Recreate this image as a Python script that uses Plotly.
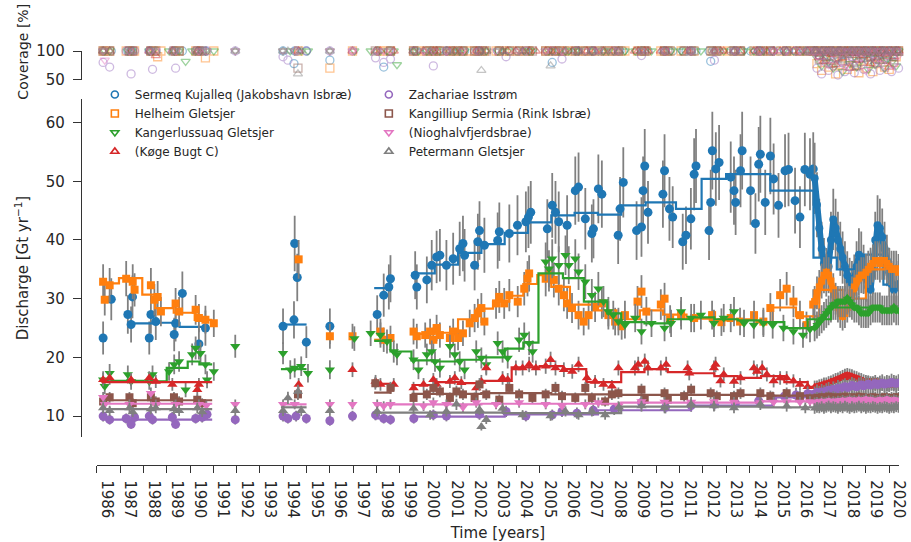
import plotly.graph_objects as go

# ---------------- data ----------------
# each tuple: (time [decimal year], discharge [Gt/yr], coverage [%])
SK_DATA = [
    (1986.27, 23.3, 100), (1986.62, 29.9, 100), (1987.33, 27.3, 100), (1987.47, 25.6, 100), (1987.53, 30.3, 100),
    (1988.25, 23.3, 100), (1988.32, 27.3, 100), (1988.53, 26.1, 100), (1989.32, 23.9, 100), (1989.38, 25.8, 100),
    (1989.67, 30.9, 100), (1990.38, 22.3, 100), (1990.66, 25.0, 100),
    (1993.99, 25.3, 100), (1994.46, 26.4, 78), (1994.49, 39.4, 100), (1994.60, 33.6, 100), (1994.99, 22.6, 100),
    (1996.00, 25.3, 84),
    (1998.03, 27.3, 100), (1998.31, 30.6, 72), (1998.53, 32.0, 100), (1998.60, 33.4, 100),
    (1999.66, 34.0, 100), (1999.73, 32.0, 100), (2000.16, 33.2, 100), (2000.37, 35.7, 100), (2000.58, 37.1, 100),
    (2000.72, 37.4, 100), (2001.00, 35.7, 100), (2001.29, 36.8, 100), (2001.57, 38.5, 100), (2001.71, 39.4, 100),
    (2001.78, 37.4, 100), (2002.21, 35.7, 100), (2002.35, 39.7, 100), (2002.42, 41.6, 100), (2002.63, 39.1, 100),
    (2003.20, 39.9, 100), (2003.27, 41.4, 100), (2003.70, 41.1, 100), (2004.05, 42.5, 100), (2004.41, 43.1, 100),
    (2004.52, 43.9, 100), (2004.62, 44.7, 100), (2005.33, 41.9, 100), (2005.54, 45.9, 80), (2005.68, 44.7, 100),
    (2005.82, 43.1, 100), (2006.18, 42.5, 100), (2006.53, 48.4, 100), (2006.67, 49.0, 100), (2006.96, 43.6, 100),
    (2007.24, 41.1, 100), (2007.31, 41.9, 100), (2007.52, 48.7, 100), (2007.67, 47.8, 100), (2008.37, 40.8, 100),
    (2008.45, 45.3, 100), (2008.59, 49.8, 100), (2009.16, 41.6, 100), (2009.37, 42.2, 100), (2009.44, 48.4, 100),
    (2009.51, 52.6, 100), (2009.65, 44.7, 100), (2010.29, 47.8, 100), (2010.36, 51.8, 100), (2010.57, 45.3, 100),
    (2010.71, 43.9, 100), (2011.14, 39.7, 100), (2011.28, 40.8, 100), (2011.49, 43.6, 100), (2011.63, 51.2, 100),
    (2011.71, 52.6, 100), (2012.27, 41.6, 100), (2012.34, 46.4, 82), (2012.41, 55.2, 100), (2012.56, 52.1, 100),
    (2012.70, 53.2, 100), (2013.20, 50.7, 100), (2013.34, 48.4, 100), (2013.41, 46.4, 100), (2013.62, 51.8, 100),
    (2013.69, 55.2, 100), (2014.05, 48.4, 100), (2014.26, 42.8, 100), (2014.40, 52.9, 100), (2014.47, 54.6, 100),
    (2014.68, 46.4, 100), (2014.90, 54.3, 100), (2015.04, 50.4, 100), (2015.25, 45.9, 100), (2015.53, 51.8, 100),
    (2015.68, 52.0, 100), (2015.96, 46.7, 100), (2016.17, 43.9, 100), (2016.38, 52.0, 100), (2016.60, 51.2, 100),
    (2016.74, 52.1, 100),
]
HG_DATA = [
    (1986.27, 32.9, 100), (1986.34, 29.8, 100), (1986.55, 32.3, 100), (1987.26, 33.4, 100), (1987.54, 32.9, 100),
    (1987.62, 31.5, 100), (1988.32, 32.3, 100), (1988.47, 29.8, 100), (1988.61, 30.3, 90), (1988.75, 27.8, 100),
    (1989.38, 29.2, 100), (1989.53, 27.8, 100), (1990.24, 28.1, 100), (1990.38, 26.7, 100), (1990.66, 26.4, 88),
    (1991.02, 25.8, 100),
    (1994.66, 36.7, 100), (1996.00, 23.6, 70), (1996.97, 23.6, 100), (1998.17, 24.4, 100), (1998.31, 23.0, 100),
    (1998.60, 23.3, 100),
    (1999.59, 24.4, 100), (1999.73, 23.6, 100), (2000.09, 23.8, 100), (2000.30, 24.4, 100), (2000.44, 23.0, 100),
    (2000.58, 25.0, 100), (2000.72, 23.8, 100), (2001.15, 23.3, 100), (2001.29, 24.4, 100), (2001.50, 23.3, 100),
    (2001.71, 24.1, 100), (2002.00, 25.8, 100), (2002.21, 26.7, 100), (2002.35, 27.5, 100), (2002.50, 28.4, 100),
    (2002.63, 26.1, 100), (2003.13, 29.2, 100), (2003.27, 30.3, 100), (2003.48, 29.2, 100), (2003.70, 30.6, 100),
    (2004.06, 29.5, 100), (2004.34, 31.7, 100), (2004.48, 33.4, 100), (2004.55, 34.3, 100), (2005.26, 33.4, 100),
    (2005.40, 34.3, 100), (2005.61, 33.2, 100), (2005.82, 31.7, 100), (2006.04, 30.6, 100), (2006.18, 29.2, 100),
    (2006.39, 28.4, 100), (2006.67, 27.2, 100), (2006.89, 26.1, 100), (2007.10, 27.2, 100), (2007.38, 28.6, 100),
    (2007.67, 29.2, 100), (2007.95, 27.2, 100), (2008.24, 26.1, 100), (2008.52, 25.3, 100), (2008.66, 27.2, 100),
    (2009.20, 29.5, 100), (2009.37, 31.2, 100), (2009.58, 27.8, 100), (2010.20, 29.0, 100), (2010.36, 30.0, 100),
    (2010.60, 26.5, 100), (2011.07, 27.2, 100), (2011.63, 26.7, 100), (2012.40, 27.2, 100), (2012.80, 26.0, 100),
    (2013.20, 26.7, 100), (2013.60, 26.1, 100), (2014.20, 27.2, 100), (2014.60, 26.1, 100), (2014.90, 28.4, 100),
    (2015.32, 30.6, 100), (2015.60, 31.7, 100), (2015.89, 29.5, 100), (2016.17, 27.2, 100), (2016.45, 25.5, 100),
    (2016.74, 29.0, 100),
]
KG_DATA = [
    (1986.27, 16.2, 100), (1986.34, 15.1, 100), (1986.55, 17.3, 100), (1987.33, 17.1, 100), (1987.47, 15.9, 100),
    (1988.25, 15.9, 100), (1988.39, 17.1, 100), (1989.10, 17.6, 100), (1989.32, 18.8, 100), (1989.53, 19.3, 100),
    (1989.81, 14.5, 82), (1990.09, 20.5, 100), (1990.24, 21.6, 100), (1990.45, 20.7, 100), (1990.66, 18.8, 100),
    (1990.73, 16.2, 100), (1991.02, 17.6, 100),
    (1991.94, 21.9, 100), (1993.99, 20.7, 100), (1994.30, 17.9, 100), (1994.49, 18.2, 100), (1994.77, 18.5, 100),
    (1995.06, 17.3, 100), (1996.00, 17.9, 100),
    (1997.05, 23.2, 100), (1997.75, 24.1, 100), (1998.17, 23.8, 100), (1998.45, 22.7, 100), (1998.74, 21.0, 100),
    (1998.88, 20.5, 76),
    (1999.59, 19.6, 100), (1999.80, 17.9, 100), (2000.16, 20.5, 100), (2000.37, 21.0, 100), (2000.51, 19.3, 100),
    (2000.72, 18.2, 100), (2001.15, 21.9, 100), (2001.36, 20.5, 100), (2001.57, 19.3, 100), (2001.78, 17.9, 100),
    (2002.28, 21.0, 100), (2002.50, 19.9, 100), (2002.71, 18.8, 100), (2003.20, 22.4, 100), (2003.41, 21.0, 100),
    (2003.63, 19.9, 100), (2004.12, 23.0, 100), (2004.34, 23.8, 100), (2004.55, 22.4, 100), (2004.70, 21.0, 100),
    (2005.26, 36.3, 100), (2005.40, 35.1, 100), (2005.54, 36.8, 100), (2005.82, 35.7, 100), (2006.11, 37.4, 100),
    (2006.25, 35.7, 100), (2006.53, 36.8, 100), (2006.67, 34.6, 100), (2006.96, 32.9, 100), (2007.24, 30.6, 100),
    (2007.52, 31.7, 100), (2007.74, 29.5, 100), (2007.95, 27.8, 100), (2008.16, 27.2, 100), (2008.38, 26.1, 100),
    (2008.66, 25.5, 100), (2009.10, 26.7, 100), (2009.37, 24.4, 100), (2009.80, 25.8, 100), (2010.36, 25.0, 100),
    (2010.64, 25.8, 100), (2011.07, 27.8, 100), (2011.50, 26.7, 100), (2011.92, 27.2, 100), (2012.48, 25.8, 100),
    (2012.90, 26.7, 100), (2013.34, 27.8, 100), (2013.77, 25.8, 100), (2014.19, 25.5, 100), (2014.60, 25.8, 100),
    (2015.00, 25.5, 100), (2015.46, 25.0, 100), (2015.89, 24.4, 100), (2016.30, 23.8, 100), (2016.60, 24.8, 100),
]
KB_DATA = [
    (1986.27, 16.2, 100), (1986.55, 16.5, 100), (1987.47, 16.2, 100), (1988.25, 16.5, 100), (1988.53, 15.9, 92),
    (1989.24, 15.4, 100), (1990.31, 14.5, 100), (1990.38, 15.4, 100),
    (1994.66, 15.4, 100), (1996.97, 17.9, 100), (1997.96, 15.9, 100), (1998.17, 15.4, 100), (1998.74, 15.4, 100),
    (1999.59, 14.8, 100), (2000.02, 15.4, 100), (2000.44, 16.2, 100), (2000.58, 15.4, 100), (2001.15, 15.9, 100),
    (2001.36, 16.5, 100), (2001.64, 15.7, 100), (2002.28, 14.8, 100), (2002.50, 15.9, 100), (2002.71, 18.2, 100),
    (2003.41, 16.5, 100), (2003.63, 16.2, 100), (2003.98, 18.2, 100), (2004.27, 18.2, 100), (2004.55, 18.8, 100),
    (2004.84, 18.2, 100), (2005.26, 18.5, 100), (2005.47, 19.6, 100), (2005.68, 18.2, 100), (2006.04, 17.9, 100),
    (2006.40, 17.6, 100), (2006.67, 18.8, 100), (2007.03, 16.5, 100), (2007.38, 15.9, 100), (2007.74, 15.4, 100),
    (2008.10, 15.1, 100), (2008.38, 18.2, 100), (2009.09, 18.2, 100), (2009.23, 18.8, 100), (2009.51, 19.3, 100),
    (2009.65, 18.2, 100), (2010.20, 18.2, 100), (2010.43, 18.8, 100), (2011.35, 18.2, 100), (2011.42, 17.3, 100),
    (2012.48, 18.2, 100), (2012.55, 18.8, 100), (2012.76, 16.0, 100), (2012.90, 17.1, 100), (2013.34, 15.9, 100),
    (2013.62, 16.5, 100), (2014.19, 18.2, 100), (2014.33, 17.6, 100), (2014.55, 18.2, 100), (2014.75, 17.1, 100),
    (2015.04, 16.0, 100), (2015.32, 16.5, 100), (2015.60, 16.5, 100), (2015.89, 16.0, 100), (2016.17, 15.4, 100),
    (2016.50, 15.0, 100),
]
ZI_DATA = [
    (1986.27, 10.0, 80), (1986.55, 9.4, 72), (1987.26, 9.6, 100), (1987.47, 8.6, 60), (1987.62, 9.8, 100),
    (1988.25, 10.0, 100), (1988.39, 9.4, 68), (1989.24, 9.8, 100), (1989.38, 8.6, 70), (1990.24, 9.6, 100),
    (1990.52, 9.8, 100), (1990.73, 10.3, 100),
    (1991.94, 9.4, 100), (1993.99, 10.0, 90), (1994.20, 9.6, 84), (1994.55, 10.0, 100), (1994.99, 9.6, 100),
    (1996.00, 9.2, 100),
    (1996.97, 10.0, 100), (1997.96, 10.2, 88), (1998.31, 9.6, 80), (1998.60, 9.4, 86), (1999.60, 9.6, 100),
    (2000.44, 10.2, 74), (2001.00, 10.0, 100), (2002.42, 10.3, 100), (2003.56, 10.8, 90), (2004.41, 10.0, 100),
    (2005.54, 10.2, 100), (2005.96, 10.8, 86), (2006.60, 10.5, 100), (2007.30, 11.0, 100), (2008.20, 11.2, 100),
    (2009.37, 12.3, 92), (2010.40, 11.5, 100), (2011.50, 11.8, 100), (2012.50, 12.0, 84), (2013.40, 12.2, 100),
    (2014.40, 12.6, 100), (2015.00, 13.0, 100), (2015.50, 13.4, 100), (2016.00, 13.6, 100), (2016.50, 13.8, 100),
]
KS_DATA = [
    (1986.27, 12.5, 100), (1986.55, 13.2, 100), (1987.40, 13.2, 100), (1987.54, 12.2, 100), (1988.32, 13.2, 100),
    (1988.53, 12.5, 100), (1989.31, 13.2, 100), (1989.53, 12.5, 100), (1990.31, 12.8, 100), (1990.52, 12.2, 100),
    (1994.63, 13.7, 70), (1997.95, 15.6, 100), (1998.60, 14.8, 100),
    (1999.59, 13.1, 100), (2000.16, 13.7, 100), (2000.44, 14.8, 100), (2000.72, 14.2, 100), (2001.15, 13.1, 100),
    (2001.43, 14.2, 100), (2001.71, 13.7, 100), (2002.21, 13.1, 100), (2002.42, 15.4, 100), (2002.71, 13.7, 100),
    (2003.27, 12.8, 100), (2003.70, 14.8, 100), (2004.12, 13.7, 100), (2004.69, 13.1, 100), (2005.26, 13.7, 100),
    (2005.68, 14.8, 100), (2005.96, 13.4, 100), (2006.53, 13.1, 100), (2006.96, 14.8, 100), (2007.24, 13.1, 100),
    (2007.81, 12.5, 100), (2008.10, 13.7, 100), (2008.38, 13.9, 100), (2009.37, 14.5, 100), (2009.51, 12.8, 100),
    (2010.36, 13.9, 100), (2010.50, 12.8, 100), (2011.20, 13.4, 100), (2011.50, 14.5, 100), (2012.34, 13.9, 100),
    (2012.60, 13.4, 100), (2013.34, 13.4, 100), (2013.62, 13.9, 100), (2014.47, 13.9, 100), (2014.90, 13.4, 100),
    (2015.60, 13.9, 100), (2016.17, 13.4, 100), (2016.60, 13.0, 100),
]
NB_DATA = [
    (1986.27, 13.2, 100), (1986.34, 12.0, 84), (1987.40, 12.0, 100), (1988.32, 13.9, 100), (1988.53, 12.0, 100),
    (1989.38, 12.0, 100), (1990.38, 12.0, 100), (1990.70, 11.8, 100),
    (1991.94, 12.0, 100), (1993.99, 12.0, 100), (1994.49, 12.0, 100), (1996.00, 12.0, 100),
    (1996.97, 12.0, 100), (1998.03, 12.0, 100), (1998.31, 11.7, 100), (1998.60, 12.0, 100), (2000.02, 11.7, 100),
    (2000.44, 12.3, 100), (2001.00, 12.0, 100), (2001.71, 11.5, 100), (2002.28, 12.3, 100), (2003.13, 12.0, 100),
    (2004.12, 12.3, 100), (2005.26, 12.0, 100), (2005.96, 11.7, 100), (2006.96, 12.0, 100), (2007.52, 12.3, 100),
    (2008.38, 11.7, 100), (2009.37, 12.5, 100), (2010.36, 12.4, 100), (2011.50, 12.4, 100), (2012.48, 12.5, 100),
    (2013.34, 12.4, 100), (2014.47, 12.3, 100), (2015.04, 12.4, 100), (2015.60, 12.5, 100), (2016.17, 12.4, 100),
    (2016.60, 12.5, 100),
]
PG_DATA = [
    (1986.27, 11.4, 100), (1986.55, 10.9, 100), (1987.40, 11.4, 100), (1987.54, 10.7, 100), (1988.32, 11.2, 100),
    (1988.53, 11.4, 100), (1989.31, 11.2, 100), (1989.53, 10.9, 100), (1990.31, 11.4, 100), (1990.52, 10.7, 100),
    (1991.94, 10.9, 100), (1993.99, 10.9, 100), (1994.20, 13.1, 100), (1994.63, 14.2, 60), (1994.77, 10.9, 100),
    (1996.00, 10.9, 100),
    (1998.03, 10.8, 100), (1999.59, 11.3, 100), (2000.30, 10.2, 100), (2001.00, 10.8, 100), (2001.43, 12.0, 100),
    (2002.42, 11.1, 100), (2002.50, 8.2, 66), (2002.71, 9.4, 100), (2003.41, 11.3, 100), (2004.27, 10.2, 100),
    (2005.47, 10.0, 74), (2006.11, 10.8, 100), (2006.67, 10.2, 100), (2007.24, 10.8, 100), (2007.81, 10.2, 100),
    (2008.40, 11.5, 100), (2009.37, 11.7, 100), (2010.36, 11.4, 100), (2011.50, 12.0, 100), (2012.48, 11.7, 100),
    (2013.34, 11.4, 100), (2014.47, 12.0, 100), (2015.60, 11.7, 100), (2016.40, 11.4, 100),
]

# dense (near-continuous) sampling at the end of the record
DENSE_T = [2016.8, 2016.9, 2017.0, 2017.1, 2017.2, 2017.3, 2017.4, 2017.5, 2017.6, 2017.7,
           2017.8, 2017.9, 2018.0, 2018.1, 2018.2, 2018.3, 2018.4, 2018.5, 2018.6, 2018.7,
           2018.8, 2018.9, 2019.0, 2019.1, 2019.2, 2019.3, 2019.4, 2019.5, 2019.6, 2019.7,
           2019.8, 2019.9, 2020.0, 2020.1, 2020.2, 2020.3, 2020.4]
SK_DENSE = [50.5, 46.0, 42.0, 38.5, 36.0, 34.5, 35.5, 40.0, 43.5, 42.0, 40.0, 38.5, 37.0, 35.5, 34.0, 33.0, 32.5,
            33.5, 35.5, 37.5, 37.0, 35.0, 33.5, 32.0, 31.5, 35.0, 40.0, 42.5, 42.0, 40.5, 38.5, 36.5, 34.5, 32.5,
            31.5, 32.0, 32.5]
HG_DENSE = [29.5, 31.0, 32.0, 33.0, 34.0, 34.5, 34.0, 33.0, 31.5, 30.0, 28.5, 27.5, 27.0, 27.5, 28.5, 29.5, 31.0,
            32.0, 33.0, 33.5, 34.0, 34.0, 34.5, 35.0, 35.5, 36.0, 36.5, 36.5, 36.0, 36.5, 36.5, 36.0, 35.5, 35.0,
            35.0, 35.0, 34.5]
KG_DENSE = [25.0, 25.5, 26.0, 26.5, 27.0, 27.5, 28.0, 28.5, 29.0, 29.0, 29.5, 29.5, 29.5, 29.5, 30.0, 29.5, 29.0,
            28.5, 28.5, 28.0, 27.5, 27.5, 27.5, 27.5, 28.0, 28.5, 28.5, 28.5, 28.5, 28.0, 28.0, 28.0, 28.0, 28.0,
            28.5, 28.0, 28.0]
KB_DENSE = [15.0, 15.0, 15.2, 15.3, 15.5, 15.5, 15.7, 15.8, 16.0, 16.2, 16.3, 16.5, 16.7, 16.9, 17.0, 16.9, 16.8,
            16.6, 16.5, 16.3, 16.2, 16.0, 15.9, 15.8, 15.7, 15.6, 15.5, 15.5, 15.4, 15.4, 15.3, 15.3, 15.3, 15.4,
            15.5, 15.4, 15.4]
ZI_DENSE = [13.8, 14.1, 13.9, 14.2, 14.0, 14.3, 14.5, 14.2, 14.6, 14.4, 14.8, 14.6, 14.9, 15.1, 14.8, 15.0, 15.3,
            15.1, 14.9, 15.2, 15.4, 15.1, 15.3, 15.5, 15.2, 15.4, 15.6, 15.3, 15.5, 15.7, 15.4, 15.6, 15.5, 15.8,
            15.6, 15.5, 15.7]
KS_DENSE = [13.0, 13.2, 13.1, 13.3, 13.0, 13.2, 13.4, 13.1, 13.3, 13.2, 13.0, 13.3, 13.1, 13.4, 13.2, 13.0, 13.3,
            13.1, 13.2, 13.4, 13.1, 13.3, 13.0, 13.2, 13.1, 13.3, 13.2, 13.0, 13.2, 13.1, 13.3, 13.2, 13.0, 13.2,
            13.1, 13.3, 13.2]
NB_DENSE = [12.3, 12.4, 12.2, 12.5, 12.3, 12.4, 12.6, 12.3, 12.5, 12.4, 12.6, 12.5, 12.7, 12.5, 12.6, 12.8, 12.6,
            12.7, 12.5, 12.8, 12.6, 12.7, 12.9, 12.6, 12.8, 12.7, 12.5, 12.7, 12.8, 12.6, 12.7, 12.9, 12.7, 12.6,
            12.8, 12.7, 12.6]
PG_DENSE = [11.3, 11.5, 11.4, 11.6, 11.3, 11.5, 11.7, 11.4, 11.6, 11.5, 11.3, 11.6, 11.4, 11.7, 11.5, 11.3, 11.6,
            11.4, 11.5, 11.7, 11.4, 11.6, 11.3, 11.5, 11.4, 11.6, 11.5, 11.3, 11.5, 11.4, 11.6, 11.5, 11.3, 11.5,
            11.4, 11.6, 11.5]

# coverage [%] of the dense samples
SK_DCOV = [100, 100, 92, 100, 100, 86, 100, 100, 100, 94, 100, 100, 80, 100, 100, 100, 90, 100, 100, 100, 96, 100,
           100, 84, 100, 100, 100, 92, 100, 100, 100, 88, 100, 100, 95, 100, 100]
HG_DCOV = [100, 78, 100, 66, 90, 100, 72, 100, 84, 60, 100, 76, 92, 100, 68, 88, 100, 74, 96, 62, 100, 82, 70, 100,
           90, 64, 100, 78, 86, 100, 72, 94, 68, 100, 80, 90, 100]
KG_DCOV = [100, 88, 100, 74, 100, 92, 80, 100, 70, 100, 86, 100, 64, 94, 100, 78, 100, 90, 72, 100, 84, 100, 96,
           68, 100, 88, 76, 100, 92, 100, 70, 86, 100, 80, 100, 74, 100]
KB_DCOV = [100, 100, 90, 100, 82, 100, 100, 94, 100, 76, 100, 100, 88, 100, 100, 70, 100, 96, 100, 84, 100, 100,
           92, 100, 78, 100, 100, 86, 100, 100, 94, 100, 72, 100, 90, 100, 100]
ZI_DCOV = [100, 70, 92, 60, 100, 80, 66, 100, 74, 88, 58, 100, 82, 64, 96, 72, 100, 62, 86, 100, 76, 68, 100, 90,
           60, 100, 78, 84, 66, 100, 72, 92, 100, 64, 80, 100, 70]
KS_DCOV = [100, 100, 86, 100, 100, 92, 100, 78, 100, 100, 90, 100, 100, 84, 100, 100, 96, 100, 74, 100, 100, 88,
           100, 100, 92, 100, 80, 100, 100, 94, 100, 86, 100, 100, 90, 100, 100]
NB_DCOV = [100, 90, 100, 82, 100, 100, 76, 100, 94, 100, 86, 100, 100, 72, 100, 92, 100, 80, 100, 100, 88, 100,
           66, 100, 96, 100, 84, 100, 100, 78, 100, 90, 100, 100, 74, 100, 92]
PG_DCOV = [100, 100, 94, 100, 88, 100, 100, 80, 100, 96, 100, 100, 84, 100, 92, 100, 100, 76, 100, 100, 90, 100,
           100, 86, 100, 100, 94, 100, 82, 100, 100, 92, 100, 88, 100, 100, 96]

# annual-mean step lines: list of runs (edges, values)
SK_STEPS = [([1987.6, 1988.55, 1989.55, 1990.6], [25.8, 25.9, 25.2]),
            ([1993.9, 1995.0], [25.6]),
            ([1997.9, 1998.65], [31.8]),
            ([1999.5, 2000.5, 2001.5, 2002.5, 2003.5, 2004.5, 2005.5, 2006.5, 2007.5, 2008.5, 2009.55, 2010.85,
              2011.95, 2013.0, 2014.9, 2016.75, 2017.75, 2018.75, 2019.75, 2020.42],
             [34.3, 35.8, 37.8, 39.3, 41.2, 43.0, 44.2, 44.6, 44.3, 45.9, 46.4, 45.3, 50.4, 51.2, 48.4, 37.0, 35.0,
              37.5, 32.4])]
HG_STEPS = [([1986.2, 1986.95, 1987.95, 1988.5, 1989.3, 1990.2, 1990.95], [32.6, 33.5, 30.7, 28.4, 27.6, 26.4]),
            ([1997.9, 1998.65], [23.0]),
            ([1999.5, 2000.5, 2001.5, 2002.3, 2003.0, 2003.7, 2004.3, 2004.9, 2005.5, 2006.3, 2007.3, 2008.3,
              2009.3, 2010.3, 2011.3, 2012.3, 2013.3, 2014.3, 2015.0, 2016.0, 2017.0, 2018.0, 2019.0, 2019.8,
              2020.42],
             [24.0, 24.2, 26.5, 28.3, 29.5, 30.5, 32.5, 34.0, 32.0, 29.0, 28.0, 26.5, 28.0, 27.3, 26.6, 26.3, 26.5,
              26.0, 28.5, 27.0, 31.5, 30.0, 35.0, 35.5])]
KG_STEPS = [([1986.2, 1987.0, 1988.0, 1989.0, 1989.9, 1990.4, 1990.95], [16.0, 16.0, 15.9, 18.2, 19.3, 18.8]),
            ([1993.9, 1995.0], [18.0]),
            ([1997.9, 1998.6, 1999.5, 2000.5, 2001.5, 2002.5, 2003.5, 2004.3, 2004.95, 2006.0, 2006.9, 2007.9,
              2008.5, 2009.5, 2010.5, 2011.5, 2012.5, 2013.5, 2014.5, 2015.5, 2016.5, 2017.5, 2018.5, 2019.5,
              2020.42],
             [22.8, 21.0, 19.5, 19.3, 19.6, 20.0, 21.5, 22.5, 34.3, 33.5, 29.5, 27.5, 26.0, 25.8, 26.5, 26.8, 26.5,
              26.3, 26.0, 25.0, 26.5, 28.5, 28.5, 28.3])]
KB_STEPS = [([1986.2, 1990.95], [15.8]),
            ([1997.9, 1998.65], [15.5]),
            ([1999.5, 2000.5, 2001.5, 2002.5, 2003.8, 2005.0, 2006.0, 2007.0, 2008.5, 2009.5, 2010.5, 2011.5,
              2012.5, 2013.5, 2014.5, 2015.5, 2016.5, 2017.5, 2018.5, 2019.5, 2020.42],
             [15.3, 15.8, 15.6, 16.0, 18.3, 18.5, 18.0, 15.8, 17.5, 18.0, 17.5, 17.3, 16.8, 16.5, 16.8, 15.8, 15.0,
              16.3, 16.3, 15.2])]
ZI_STEPS = [([1986.2, 1990.95], [9.4]),
            ([1997.9, 1998.65], [9.6]),
            ([1999.5, 2003.5, 2007.5, 2011.5, 2015.0, 2016.5, 2017.5, 2018.5, 2019.5, 2020.42],
             [9.9, 10.3, 11.0, 11.8, 13.2, 14.2, 14.8, 15.3, 15.6])]
KS_STEPS = [([1986.2, 1990.95], [12.7]),
            ([1997.9, 1998.65], [14.0]),
            ([1999.5, 2002.5, 2005.5, 2008.5, 2011.5, 2014.5, 2017.5, 2020.42],
             [13.8, 13.9, 13.7, 13.6, 13.6, 13.5, 13.3])]
NB_STEPS = [([1986.2, 1990.95], [12.1]),
            ([1993.9, 1995.0], [12.0]),
            ([1997.9, 2002.5, 2008.5, 2014.5, 2017.5, 2020.42], [12.0, 12.1, 12.3, 12.5, 12.6])]
PG_STEPS = [([1986.2, 1990.95], [11.2]),
            ([1993.9, 1995.0], [11.5]),
            ([1997.9, 2003.5, 2008.5, 2014.5, 2020.42], [10.6, 10.5, 11.6, 11.5])]

NAMES = ["Sermeq Kujalleq (Jakobshavn Isbræ)", "Helheim Gletsjer", "Kangerlussuaq Gletsjer", "(Køge Bugt C)",
         "Zachariae Isstrøm", "Kangilliup Sermia (Rink Isbræ)", "(Nioghalvfjerdsbrae)", "Petermann Gletsjer"]
YEAR_TICKS = list(range(1986, 2021))

# ---------------- styling ----------------
COLORS = ["#1f77b4", "#ff7f0e", "#2ca02c", "#d62728", "#9467bd", "#8c564b", "#e377c2", "#7f7f7f"]
SYMBOLS = ["circle", "square", "triangle-down", "triangle-up", "circle", "square", "triangle-down", "triangle-up"]
SIZES = [9, 8, 9, 9, 9, 8, 9, 9]
ERR_PCT = [12, 9, 9, 7, 9, 7, 7, 8]
LEGENDS = ["legend"] * 4 + ["legend2"] * 4

DATA = [SK_DATA, HG_DATA, KG_DATA, KB_DATA, ZI_DATA, KS_DATA, NB_DATA, PG_DATA]
DENSE = [SK_DENSE, HG_DENSE, KG_DENSE, KB_DENSE, ZI_DENSE, KS_DENSE, NB_DENSE, PG_DENSE]
DCOV = [SK_DCOV, HG_DCOV, KG_DCOV, KB_DCOV, ZI_DCOV, KS_DCOV, NB_DCOV, PG_DCOV]
STEPS = [SK_STEPS, HG_STEPS, KG_STEPS, KB_STEPS, ZI_STEPS, KS_STEPS, NB_STEPS, PG_STEPS]

FONT = "DejaVu Sans"
TXT = "#262626"
AX = "#333333"
ERR_COLOR = "#808080"

# pixel geometry (911 x 542)
W, H = 911, 542
ML, MR, MT, MB = 81, 3, 51, 76
PW, PH = W - ML - MR, H - MT - MB


def px_x(p):
    return (p - ML) / PW


def px_y(p):
    return (H - MB - p) / PH


def step_xy(runs):
    xs, ys = [], []
    for edges, vals in runs:
        xs += list(edges) + [None]
        ys += list(vals) + [vals[-1], None]
    return xs, ys


fig = go.Figure()

for i in range(8):
    t = [d[0] for d in DATA[i]]
    q = [d[1] for d in DATA[i]]
    cov = [d[2] for d in DATA[i]]
    err = dict(type="percent", value=ERR_PCT[i], color=ERR_COLOR, thickness=1.8, width=0)
    fig.add_trace(go.Scatter(x=t, y=q, mode="markers", xaxis="x", yaxis="y", showlegend=False,
                             marker=dict(color=COLORS[i], symbol=SYMBOLS[i], size=SIZES[i], line=dict(width=0)),
                             error_y=err, hoverinfo="skip"))
    fig.add_trace(go.Scatter(x=DENSE_T, y=DENSE[i], mode="lines+markers", xaxis="x", yaxis="y", showlegend=False,
                             line=dict(color=COLORS[i], width=6),
                             marker=dict(color=COLORS[i], symbol=SYMBOLS[i], size=SIZES[i] - 1, line=dict(width=0)),
                             error_y=err, hoverinfo="skip"))
    sx, sy = step_xy(STEPS[i])
    fig.add_trace(go.Scatter(x=sx, y=sy, mode="lines", line=dict(color=COLORS[i], width=2.2, shape="hv"),
                             xaxis="x", yaxis="y", showlegend=False, connectgaps=False, hoverinfo="skip"))
    # coverage panel (hollow, faint markers)
    fig.add_trace(go.Scatter(x=t + DENSE_T, y=cov + DCOV[i], mode="markers", xaxis="x", yaxis="y2",
                             showlegend=False, opacity=0.45, cliponaxis=False,
                             marker=dict(color=COLORS[i], symbol=SYMBOLS[i] + "-open", size=8,
                                         line=dict(color=COLORS[i], width=1.3)), hoverinfo="skip"))

# legend entries (hollow markers)
for i in range(8):
    fig.add_trace(go.Scatter(x=[None], y=[None], mode="markers", name=NAMES[i], legend=LEGENDS[i],
                             xaxis="x", yaxis="y",
                             marker=dict(color=COLORS[i], symbol=SYMBOLS[i] + "-open", size=7,
                                         line=dict(color=COLORS[i], width=1.6))))

leg_common = dict(xanchor="left", yanchor="top", bgcolor="rgba(0,0,0,0)", borderwidth=0,
                  font=dict(family=FONT, size=12, color=TXT), tracegroupgap=0, itemwidth=30)

fig.update_layout(
    width=W, height=H,
    margin=dict(l=ML, r=MR, t=MT, b=MB, pad=0),
    paper_bgcolor="white", plot_bgcolor="white",
    font=dict(family=FONT, size=15, color=TXT),
    legend=dict(x=px_x(95), y=px_y(80), **leg_common),
    legend2=dict(x=px_x(372), y=px_y(80), **leg_common),
    xaxis=dict(domain=[px_x(97), 1.0], range=[1986.0, 2020.42], anchor="free", position=0,
               tickmode="array", tickvals=YEAR_TICKS, ticktext=[str(y) for y in YEAR_TICKS],
               tickangle=90, ticks="outside", ticklen=7, tickwidth=1.2, tickcolor=AX,
               ticklabelshift=10, ticklabelstandoff=4, ticklabeloverflow="allow",
               showline=True, linecolor=AX, linewidth=1.3, showgrid=False, zeroline=False,
               tickfont=dict(family=FONT, size=15, color=TXT),
               title=dict(text="Time [years]", standoff=10, font=dict(family=FONT, size=15, color=TXT))),
    yaxis=dict(domain=[px_y(438), px_y(99)], range=[6.43, 64.03], anchor="free", position=0,
               tickvals=[10, 20, 30, 40, 50, 60], ticks="outside", ticklen=8, tickwidth=1.2, tickcolor=AX,
               ticklabelstandoff=5,
               showline=True, linecolor=AX, linewidth=1.3, showgrid=False, zeroline=False,
               tickfont=dict(family=FONT, size=15, color=TXT),
               title=dict(text="Discharge [Gt yr<sup>−1</sup>]", standoff=12,
                          font=dict(family=FONT, size=15, color=TXT))),
    yaxis2=dict(domain=[px_y(79.7), px_y(51)], range=[50, 100], anchor="free", position=0,
                tickvals=[50, 100], ticks="outside", ticklen=8, tickwidth=1.2, tickcolor=AX,
                ticklabelstandoff=5,
                showline=True, linecolor=AX, linewidth=1.3, showgrid=False, zeroline=False,
                tickfont=dict(family=FONT, size=15, color=TXT)),
    annotations=[dict(text="Coverage [%]", xref="paper", yref="paper", x=px_x(22), y=px_y(52),
                      xanchor="center", yanchor="middle", textangle=-90, showarrow=False,
                      font=dict(family=FONT, size=14, color=TXT))],
)

# remove the default page margin so the figure sits at the window's top-left corner
fig.write_html("out.html", config={"displayModeBar": False},
               post_script="document.body.style.margin='0';")
